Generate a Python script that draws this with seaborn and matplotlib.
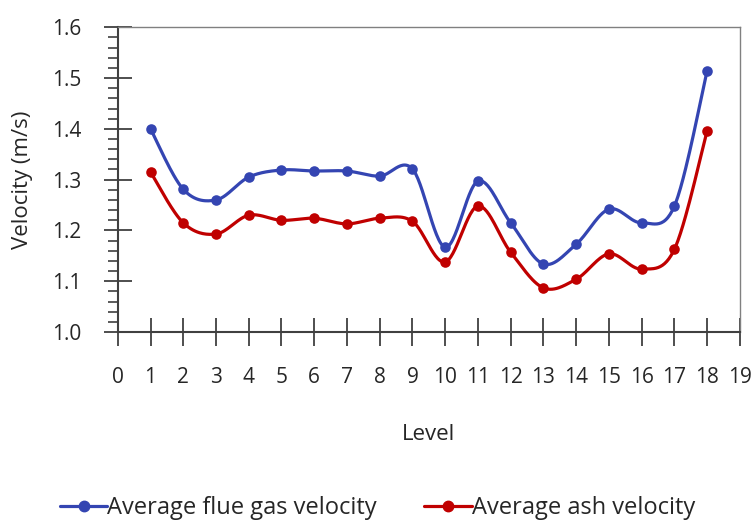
import numpy as np
import pandas as pd
import matplotlib
matplotlib.use("Agg")
import matplotlib.pyplot as plt
import seaborn as sns
from matplotlib.lines import Line2D
from matplotlib.ticker import MultipleLocator

levels = list(range(1, 19))
flue_gas = [1.400, 1.281, 1.260, 1.305, 1.319, 1.317, 1.317, 1.307, 1.321,
            1.167, 1.297, 1.215, 1.134, 1.173, 1.242, 1.215, 1.248, 1.514]
ash = [1.315, 1.215, 1.193, 1.230, 1.220, 1.224, 1.213, 1.224, 1.218,
       1.138, 1.248, 1.157, 1.087, 1.104, 1.154, 1.124, 1.163, 1.396]
series_names = ["Average flue gas velocity", "Average ash velocity"]
colors = ["#3445B2", "#C00000"]

sns.set_theme(style="white")
plt.rcParams['font.family'] = ['Open Sans', 'DejaVu Sans']


def smooth(x, y, n=30):
    # Excel-like smoothing: cubic Bezier segments with Catmull-Rom control points
    x = np.asarray(x, float)
    y = np.asarray(y, float)
    P = np.column_stack([x, y])
    out = []
    for i in range(len(P) - 1):
        p0 = P[i - 1] if i > 0 else P[i]
        p1 = P[i]
        p2 = P[i + 1]
        p3 = P[i + 2] if i + 2 < len(P) else P[i + 1]
        c1 = p1 + (p2 - p0) / 6.0
        c2 = p2 - (p3 - p1) / 6.0
        t = np.linspace(0, 1, n, endpoint=(i == len(P) - 2))[:, None]
        seg = ((1 - t) ** 3) * p1 + 3 * ((1 - t) ** 2) * t * c1 + 3 * (1 - t) * t ** 2 * c2 + t ** 3 * p2
        out.append(seg)
    s = np.vstack(out)
    return s[:, 0], s[:, 1]


fig = plt.figure(figsize=(7.55, 5.23), dpi=100)
ax = fig.add_axes([0.156, 0.365, 0.824, 0.583])

handles = []
for name, vals, col in zip(series_names, [flue_gas, ash], colors):
    sx, sy = smooth(levels, vals)
    sdf = pd.DataFrame({"x": sx, "y": sy})
    sns.lineplot(data=sdf, x="x", y="y", sort=False, color=col, linewidth=2.3, ax=ax, legend=False)
    pdf = pd.DataFrame({"Level": levels, "v": vals})
    sns.scatterplot(data=pdf, x="Level", y="v", color=col, s=58, edgecolor=col, linewidth=0, ax=ax,
                    legend=False, zorder=3)
    handles.append(Line2D([0], [0], color=col, linewidth=2.3, marker="o", markersize=7.5, label=name))

ax.set_xlim(0, 19)
ax.set_ylim(1.0, 1.6)
ax.xaxis.set_major_locator(MultipleLocator(1))
ax.yaxis.set_major_locator(MultipleLocator(0.1))
ax.yaxis.set_minor_locator(MultipleLocator(0.02))
ax.yaxis.set_major_formatter(matplotlib.ticker.FormatStrFormatter("%.1f"))

ax.tick_params(axis="x", which="major", direction="inout", length=20, width=1.3, color="#404040",
               labelsize=15, labelcolor="#262626", pad=15, bottom=True)
ax.tick_params(axis="y", which="major", direction="inout", length=20, width=1.3, color="#404040",
               labelsize=15, labelcolor="#262626", pad=16, left=True)
ax.tick_params(axis="y", which="minor", direction="out", length=7, width=1.2, color="#404040", left=True)

for side in ["left", "bottom"]:
    ax.spines[side].set_color("#404040")
    ax.spines[side].set_linewidth(1.5)
for side in ["top", "right"]:
    ax.spines[side].set_color("#808080")
    ax.spines[side].set_linewidth(1.0)

ax.set_xlabel("Level", fontsize=16, color="#262626", labelpad=26)
ax.set_ylabel("Velocity (m/s)", fontsize=16, color="#262626", labelpad=14)

fig.legend(handles=handles, loc="center", bbox_to_anchor=(0.5, 0.028), ncol=2, frameon=False,
           fontsize=17, handlelength=2.0, handletextpad=0.0, columnspacing=2.0,
           labelcolor="#262626")

fig.savefig("out.png", dpi=100)
